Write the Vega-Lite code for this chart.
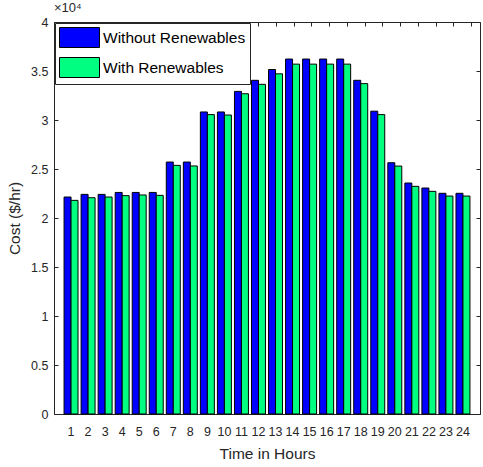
{
  "$schema": "https://vega.github.io/schema/vega-lite/v6.json",
  "width": 426,
  "height": 392,
  "autosize": {"type": "none"},
  "padding": {"left": 54, "top": 22, "right": 3, "bottom": 53},
  "background": "white",
  "config": {
    "font": "Liberation Sans",
    "view": {"stroke": "#262626", "strokeWidth": 1},
    "axis": {
      "domainColor": "#262626",
      "tickColor": "#262626",
      "labelColor": "#262626",
      "titleColor": "#262626",
      "labelFont": "Liberation Sans",
      "titleFont": "Liberation Sans",
      "labelFontSize": 12.5,
      "titleFontSize": 15.5,
      "titleFontWeight": "normal",
      "grid": false,
      "tickSize": -4
    },
    "legend": {
      "orient": "top-left",
      "offset": 1,
      "symbolType": "M-2,-1H2V1H-2Z",
      "symbolSize": 400,
      "symbolOffset": 10,
      "symbolStrokeColor": "black",
      "symbolStrokeWidth": 1,
      "symbolOpacity": 1,
      "labelFont": "Liberation Sans",
      "labelFontSize": 15.5,
      "labelColor": "black",
      "labelOffset": 13,
      "rowPadding": 5,
      "padding": 4,
      "strokeColor": "#262626",
      "fillColor": "white",
      "labelLimit": 200
    }
  },
  "title": {
    "text": "×10⁴",
    "anchor": "start",
    "frame": "group",
    "fontSize": 13,
    "fontWeight": "normal",
    "color": "#262626",
    "offset": 1
  },
  "data": {
    "values": [
      {"hour": 1, "series": "Without Renewables", "cost": 22140}, {"hour": 1, "series": "With Renewables", "cost": 21800},
      {"hour": 2, "series": "Without Renewables", "cost": 22410}, {"hour": 2, "series": "With Renewables", "cost": 22070},
      {"hour": 3, "series": "Without Renewables", "cost": 22410}, {"hour": 3, "series": "With Renewables", "cost": 22140},
      {"hour": 4, "series": "Without Renewables", "cost": 22610}, {"hour": 4, "series": "With Renewables", "cost": 22280},
      {"hour": 5, "series": "Without Renewables", "cost": 22610}, {"hour": 5, "series": "With Renewables", "cost": 22350},
      {"hour": 6, "series": "Without Renewables", "cost": 22610}, {"hour": 6, "series": "With Renewables", "cost": 22310},
      {"hour": 7, "series": "Without Renewables", "cost": 25710}, {"hour": 7, "series": "With Renewables", "cost": 25370},
      {"hour": 8, "series": "Without Renewables", "cost": 25710}, {"hour": 8, "series": "With Renewables", "cost": 25310},
      {"hour": 9, "series": "Without Renewables", "cost": 30820}, {"hour": 9, "series": "With Renewables", "cost": 30550},
      {"hour": 10, "series": "Without Renewables", "cost": 30820}, {"hour": 10, "series": "With Renewables", "cost": 30510},
      {"hour": 11, "series": "Without Renewables", "cost": 32920}, {"hour": 11, "series": "With Renewables", "cost": 32680},
      {"hour": 12, "series": "Without Renewables", "cost": 34050}, {"hour": 12, "series": "With Renewables", "cost": 33640},
      {"hour": 13, "series": "Without Renewables", "cost": 35150}, {"hour": 13, "series": "With Renewables", "cost": 34710},
      {"hour": 14, "series": "Without Renewables", "cost": 36220}, {"hour": 14, "series": "With Renewables", "cost": 35700},
      {"hour": 15, "series": "Without Renewables", "cost": 36220}, {"hour": 15, "series": "With Renewables", "cost": 35700},
      {"hour": 16, "series": "Without Renewables", "cost": 36220}, {"hour": 16, "series": "With Renewables", "cost": 35700},
      {"hour": 17, "series": "Without Renewables", "cost": 36220}, {"hour": 17, "series": "With Renewables", "cost": 35700},
      {"hour": 18, "series": "Without Renewables", "cost": 34050}, {"hour": 18, "series": "With Renewables", "cost": 33710},
      {"hour": 19, "series": "Without Renewables", "cost": 30900}, {"hour": 19, "series": "With Renewables", "cost": 30550},
      {"hour": 20, "series": "Without Renewables", "cost": 25640}, {"hour": 20, "series": "With Renewables", "cost": 25300},
      {"hour": 21, "series": "Without Renewables", "cost": 23570}, {"hour": 21, "series": "With Renewables", "cost": 23230},
      {"hour": 22, "series": "Without Renewables", "cost": 23060}, {"hour": 22, "series": "With Renewables", "cost": 22720},
      {"hour": 23, "series": "Without Renewables", "cost": 22520}, {"hour": 23, "series": "With Renewables", "cost": 22240},
      {"hour": 24, "series": "Without Renewables", "cost": 22520}, {"hour": 24, "series": "With Renewables", "cost": 22240}
    ]
  },
  "layer": [
    {
      "mark": {"type": "bar", "stroke": "black", "strokeWidth": 1},
      "encoding": {
        "x": {
          "field": "hour",
          "type": "ordinal",
          "scale": {"paddingInner": 0.18, "paddingOuter": 0.59},
          "axis": {"labelAngle": 0, "title": "Time in Hours", "labelPadding": 15, "titlePadding": 9}
        },
        "xOffset": {
          "field": "series",
          "type": "nominal",
          "sort": ["Without Renewables", "With Renewables"],
          "scale": {"domain": ["Without Renewables", "With Renewables"], "paddingInner": 0, "paddingOuter": 0}
        },
        "y": {
          "field": "cost",
          "type": "quantitative",
          "scale": {"domain": [0, 40000], "nice": false},
          "axis": {
            "values": [0, 5000, 10000, 15000, 20000, 25000, 30000, 35000, 40000],
            "labelExpr": "datum.value / 10000",
            "title": "Cost ($/hr)",
            "labelPadding": 10,
            "titlePadding": 8
          }
        },
        "color": {
          "field": "series",
          "type": "nominal",
          "sort": ["Without Renewables", "With Renewables"],
          "scale": {"domain": ["Without Renewables", "With Renewables"], "range": ["#0000ff", "#00ff80"]},
          "legend": {"title": null}
        }
      }
    },
    {
      "mark": {"type": "point", "opacity": 0},
      "encoding": {
        "x": {
          "field": "hour",
          "type": "ordinal",
          "scale": {"paddingInner": 0.18, "paddingOuter": 0.59},
          "axis": {"orient": "top", "labels": false, "title": null, "domain": false}
        },
        "y": {
          "field": "cost",
          "type": "quantitative",
          "scale": {"domain": [0, 40000], "nice": false},
          "axis": {
            "orient": "right",
            "labels": false,
            "title": null,
            "domain": false,
            "values": [0, 5000, 10000, 15000, 20000, 25000, 30000, 35000, 40000]
          }
        }
      }
    }
  ],
  "resolve": {"scale": {"y": "independent", "x": "independent"}}
}
